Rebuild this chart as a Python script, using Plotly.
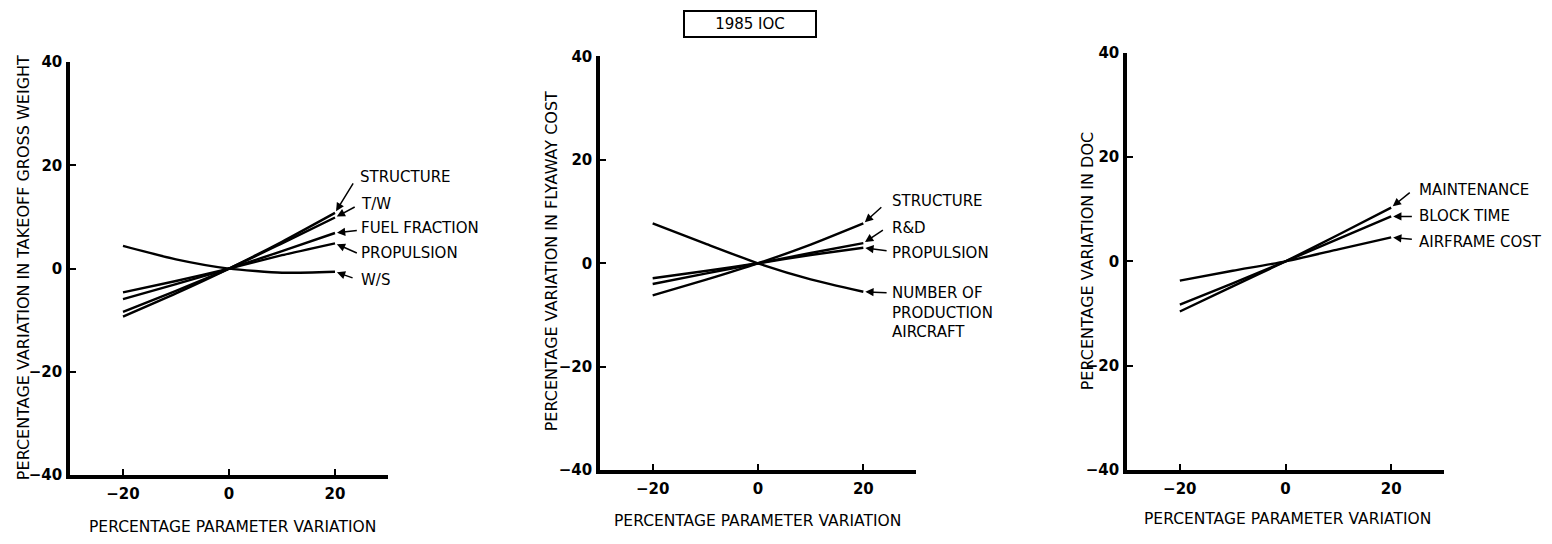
import plotly.graph_objects as go

# Parameter variation (percent) at which each curve is sampled
variation = [-20, -10, 0, 10, 20]

# Panel 1: takeoff gross weight sensitivity
togw_names = ["STRUCTURE", "T/W", "FUEL FRACTION", "PROPULSION", "W/S"]
togw_structure = [-9.3, -4.8, 0, 5.2, 10.8]
togw_tw = [-8.4, -4.3, 0, 4.9, 9.9]
togw_fuel_fraction = [-5.9, -3.0, 0, 3.4, 6.9]
togw_propulsion = [-4.6, -2.4, 0, 2.6, 4.9]
togw_ws = [4.4, 1.8, 0, -0.8, -0.6]

# Panel 2: flyaway cost sensitivity
fly_names = ["STRUCTURE", "R&D", "PROPULSION", "NUMBER OF<br>PRODUCTION<br>AIRCRAFT"]
fly_structure = [-6.2, -3.2, 0, 3.6, 7.7]
fly_rd = [-4.0, -2.0, 0, 2.0, 3.9]
fly_propulsion = [-2.9, -1.5, 0, 1.6, 3.0]
fly_production = [7.7, 3.8, 0, -3.1, -5.5]

# Panel 3: direct operating cost sensitivity
doc_names = ["MAINTENANCE", "BLOCK TIME", "AIRFRAME COST"]
doc_maintenance = [-9.6, -4.8, 0, 5.1, 10.3]
doc_block_time = [-8.3, -4.2, 0, 4.3, 8.6]
doc_airframe = [-3.7, -1.8, 0, 2.3, 4.6]

x_ticks = [-20, 0, 20]
y_ticks = [-40, -20, 0, 20, 40]

W, H = 1552, 544

panels = [
    dict(series=[togw_structure, togw_tw, togw_fuel_fraction, togw_propulsion, togw_ws],
         names=togw_names,
         xpx=(70, 388), ypx=(55, 482),
         ytitle="PERCENTAGE VARIATION IN TAKEOFF GROSS WEIGHT", ytitle_x=23, ytitle_y=268,
         xtitle_x=232, xtitle_y=536,
         # label text positions (x, y) and arrow tails (x, y), in data units
         labels=[(24.4, 17.7), (24.6, 12.5), (24.6, 7.8), (24.6, 3.1), (24.6, -2.3)],
         tails=[(23.6, 16.8), (24.0, 12.1), (24.4, 7.4), (24.4, 2.9), (23.6, -1.9)]),
    dict(series=[fly_structure, fly_rd, fly_propulsion, fly_production],
         names=fly_names,
         xpx=(600, 916), ypx=(49, 477),
         ytitle="PERCENTAGE VARIATION IN FLYAWAY COST", ytitle_x=551, ytitle_y=261,
         xtitle_x=757, xtitle_y=530,
         labels=[(25.0, 12.0), (25.0, 6.8), (25.0, 1.9), (25.0, -9.6)],
         tails=[(23.7, 11.1), (24.0, 6.6), (24.7, 2.4), (24.7, -5.7)]),
    dict(series=[doc_maintenance, doc_block_time, doc_airframe],
         names=doc_names,
         xpx=(1127, 1444), ypx=(45, 477),
         ytitle="PERCENTAGE VARIATION IN DOC", ytitle_x=1087, ytitle_y=261,
         xtitle_x=1287, xtitle_y=527,
         labels=[(24.8, 13.7), (24.8, 8.6), (24.8, 3.7)],
         tails=[(23.8, 13.4), (24.2, 8.6), (24.2, 4.2)]),
]

fig = go.Figure()
annotations = []
layout_axes = {}

FONT = "DejaVu Sans"
tick_font = dict(family=FONT, size=15, color="black", weight="bold")
label_font = dict(family=FONT, size=15, color="black")
xtitle_font = dict(family=FONT, size=15.5, color="black")
ytitle_font = dict(family=FONT, size=16, color="black")

for i, p in enumerate(panels, start=1):
    xa = "x" if i == 1 else f"x{i}"
    ya = "y" if i == 1 else f"y{i}"
    for values in p["series"]:
        fig.add_trace(go.Scatter(x=variation, y=values, mode="lines",
                                 line=dict(color="black", width=2.4, shape="spline", smoothing=0.6),
                                 xaxis=xa, yaxis=ya, showlegend=False, hoverinfo="skip"))

    x0, x1 = p["xpx"]
    ytop, ybot = p["ypx"]
    layout_axes[f"xaxis{'' if i == 1 else i}"] = dict(
        domain=[x0 / W, x1 / W], anchor=ya, range=[-30, 30],
        tickvals=x_ticks, ticks="inside", ticklen=6, tickwidth=1.5, tickcolor="black",
        showline=True, linewidth=3.5, linecolor="black", showgrid=False, zeroline=False,
        tickfont=tick_font, ticklabelstandoff=2)
    layout_axes[f"yaxis{'' if i == 1 else i}"] = dict(
        domain=[(H - ybot) / H, (H - ytop) / H], anchor=xa, range=[-40, 40],
        tickvals=y_ticks, ticks="inside", ticklen=6, tickwidth=1.5, tickcolor="black",
        showline=True, linewidth=3.5, linecolor="black", showgrid=False, zeroline=False,
        tickfont=tick_font, ticklabelstandoff=1)

    # curve labels with arrows pointing at the curve ends
    for values, name, (lx, ly), (tx, ty) in zip(p["series"], p["names"], p["labels"], p["tails"]):
        annotations.append(dict(x=variation[-1], y=values[-1], xref=xa, yref=ya,
                                ax=tx, ay=ty, axref=xa, ayref=ya, text="",
                                showarrow=True, arrowhead=2, arrowsize=1.1, arrowwidth=1.5,
                                arrowcolor="black", standoff=2))
        annotations.append(dict(x=lx, y=ly, xref=xa, yref=ya, text=name, showarrow=False,
                                xanchor="left", yanchor="middle", align="left",
                                font=label_font))

    # axis titles
    annotations.append(dict(x=p["ytitle_x"] / W, y=(H - p["ytitle_y"]) / H,
                            xref="paper", yref="paper", text=p["ytitle"], textangle=-90,
                            showarrow=False, xanchor="center", yanchor="middle",
                            font=ytitle_font))
    annotations.append(dict(x=p["xtitle_x"] / W, y=(H - p["xtitle_y"]) / H,
                            xref="paper", yref="paper", text="PERCENTAGE PARAMETER VARIATION",
                            showarrow=False, xanchor="center", yanchor="middle",
                            font=xtitle_font))

# boxed heading
annotations.append(dict(x=750 / W, y=(H - 16) / H, xref="paper", yref="paper",
                        text="1985 IOC", showarrow=False, xanchor="center", yanchor="middle",
                        width=126, height=20, bordercolor="black", borderwidth=2,
                        borderpad=2, font=dict(family=FONT, size=15, color="black")))

fig.update_layout(width=W, height=H, margin=dict(l=0, r=0, t=0, b=0),
                  paper_bgcolor="white", plot_bgcolor="white",
                  annotations=annotations, **layout_axes)

fig.write_html("out.html")
